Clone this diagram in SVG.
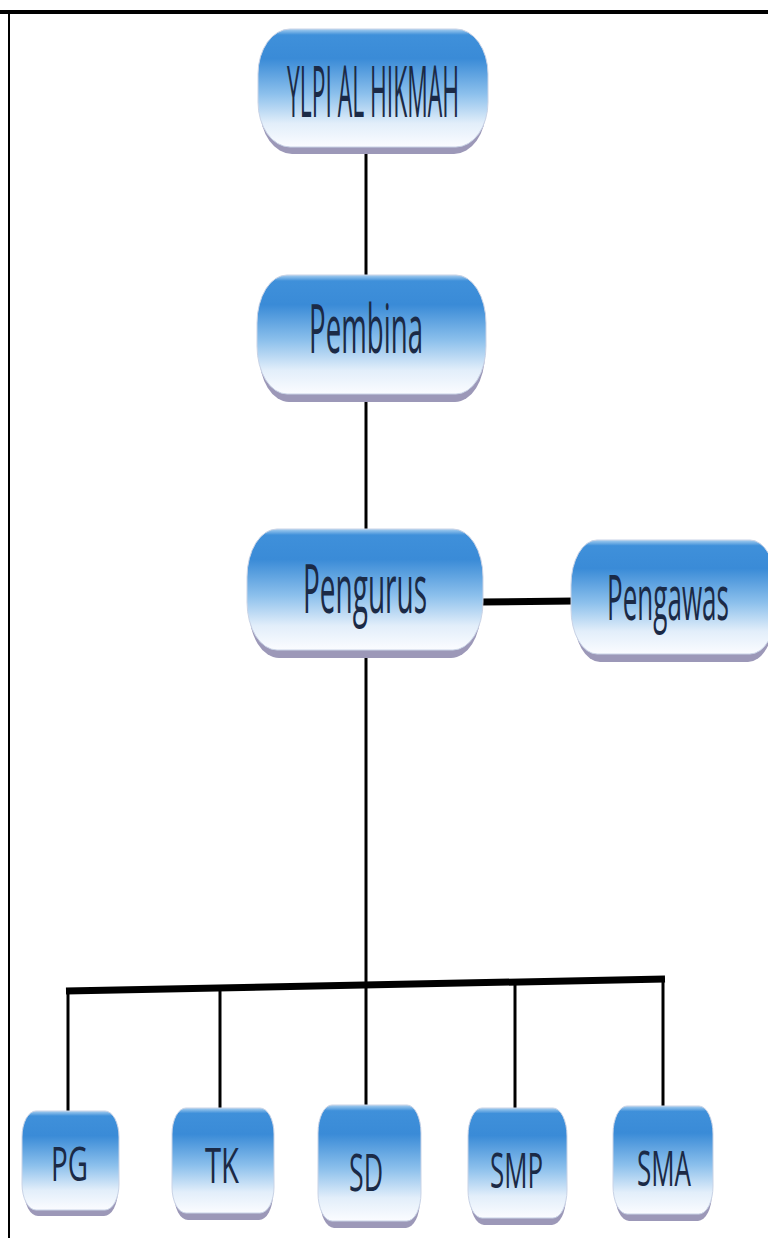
<svg xmlns="http://www.w3.org/2000/svg" width="768" height="1238" viewBox="0 0 768 1238">
<defs>
<linearGradient id="g" x1="0" y1="0" x2="0" y2="1">
<stop offset="0" stop-color="#a9d0f0"/>
<stop offset="0.05" stop-color="#3f90da"/>
<stop offset="0.25" stop-color="#3a8bd7"/>
<stop offset="0.55" stop-color="#8cc0ec"/>
<stop offset="0.8" stop-color="#e2eefa"/>
<stop offset="1" stop-color="#fbfcff"/>
</linearGradient>
<style>
.sh{fill:#9c98b8}
.bx{fill:url(#g);stroke:#c9d3e6;stroke-width:1}
.t{font-family:"Open Sans","DejaVu Sans",sans-serif;fill:#1b2a46;text-anchor:start}
.c{stroke:#000;fill:none;stroke-width:3}
.ck{stroke:#000;fill:none;stroke-width:7}
</style>
</defs>
<rect x="0" y="0" width="768" height="1238" fill="#fff"/>
<line x1="0" y1="12" x2="768" y2="12" stroke="#000" stroke-width="4"/>
<line x1="9" y1="10" x2="9" y2="1238" stroke="#000" stroke-width="2"/>

<g id="connectors">
<line class="c" x1="366" y1="150" x2="366" y2="276"/>
<line class="c" x1="366" y1="398" x2="366" y2="530"/>
<line class="c" x1="366" y1="655" x2="366" y2="1106"/>
<line class="ck" x1="481" y1="602" x2="574" y2="601"/>
<line class="ck" x1="66" y1="991" x2="665" y2="979"/>
<line class="c" x1="68" y1="991" x2="68" y2="1113"/>
<line class="c" x1="220" y1="988" x2="220" y2="1110"/>
<line class="c" x1="515" y1="982" x2="515" y2="1109"/>
<line class="c" x1="663" y1="979" x2="663" y2="1107"/>
</g>

<g id="ylpi">
<rect class="sh" x="260" y="36" width="226" height="118" rx="32" ry="45"/>
<rect class="bx" x="258" y="29" width="230" height="118" rx="32" ry="45"/>
<text class="t" x="287" y="117" font-size="72" textLength="172" lengthAdjust="spacingAndGlyphs">YLPI AL HIKMAH</text>
</g>

<g id="pembina">
<rect class="sh" x="259" y="282" width="226" height="120" rx="30" ry="48"/>
<rect class="bx" x="257" y="275" width="229" height="119" rx="30" ry="48"/>
<text class="t" x="309" y="353" font-size="68" textLength="114" lengthAdjust="spacingAndGlyphs">Pembina</text>
</g>

<g id="pengurus">
<rect class="sh" x="249" y="536" width="232" height="122" rx="30" ry="48"/>
<rect class="bx" x="247" y="529" width="236" height="121" rx="30" ry="48"/>
<text class="t" x="303" y="613" font-size="68" textLength="124" lengthAdjust="spacingAndGlyphs">Pengurus</text>
</g>

<g id="pengawas">
<rect class="sh" x="574" y="547" width="200" height="115" rx="26" ry="45"/>
<rect class="bx" x="571" y="540" width="205" height="114" rx="26" ry="45"/>
<text class="t" x="607" y="620" font-size="62" textLength="122" lengthAdjust="spacingAndGlyphs">Pengawas</text>
</g>

<g id="pg">
<rect class="sh" x="24" y="1118" width="94" height="98" rx="14" ry="26"/>
<rect class="bx" x="22" y="1111" width="97" height="99" rx="14" ry="26"/>
<text class="t" x="51" y="1181" font-size="48" textLength="37" lengthAdjust="spacingAndGlyphs">PG</text>
</g>

<g id="tk">
<rect class="sh" x="174" y="1116" width="99" height="104" rx="14" ry="26"/>
<rect class="bx" x="172" y="1108" width="102" height="105" rx="14" ry="26"/>
<text class="t" x="205" y="1183" font-size="50" textLength="34" lengthAdjust="spacingAndGlyphs">TK</text>
</g>

<g id="sd">
<rect class="sh" x="320" y="1113" width="100" height="115" rx="14" ry="28"/>
<rect class="bx" x="318" y="1105" width="103" height="116" rx="14" ry="28"/>
<text class="t" x="349" y="1191" font-size="52" textLength="34" lengthAdjust="spacingAndGlyphs">SD</text>
</g>

<g id="smp">
<rect class="sh" x="470" y="1116" width="96" height="109" rx="14" ry="28"/>
<rect class="bx" x="468" y="1108" width="99" height="110" rx="14" ry="28"/>
<text class="t" x="490" y="1188" font-size="50" textLength="53" lengthAdjust="spacingAndGlyphs">SMP</text>
</g>

<g id="sma">
<rect class="sh" x="615" y="1113" width="97" height="108" rx="14" ry="28"/>
<rect class="bx" x="613" y="1106" width="100" height="108" rx="14" ry="28"/>
<text class="t" x="637" y="1186" font-size="50" textLength="54" lengthAdjust="spacingAndGlyphs">SMA</text>
</g>
</svg>
